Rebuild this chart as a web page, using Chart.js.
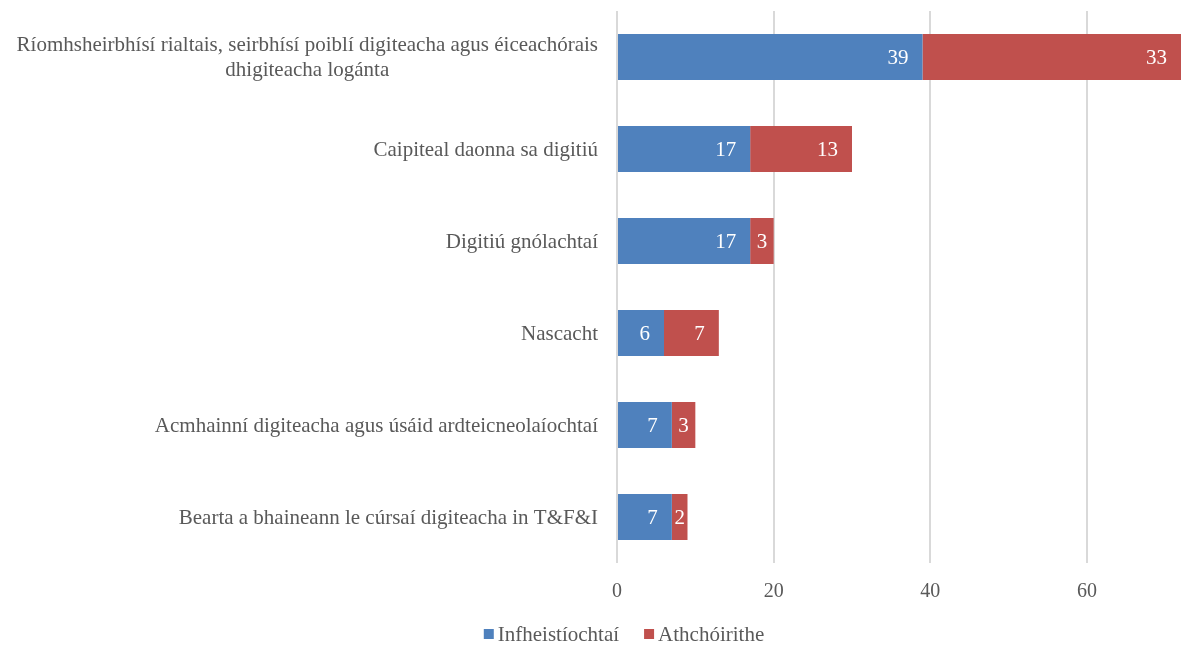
<!DOCTYPE html>
<html>
<head>
<meta charset="utf-8">
<script src="https://cdn.jsdelivr.net/npm/chart.js@4.4.0/dist/chart.umd.min.js"></script>
<style>
  html, body { margin: 0; padding: 0; background: #fff; }
  #wrap { width: 1181px; height: 646px; position: relative; }
</style>
</head>
<body>
<div id="wrap"><canvas id="chart"></canvas></div>
<script>
// data
const categories = [
  ["Ríomhsheirbhísí rialtais, seirbhísí poiblí digiteacha agus éiceachórais", "dhigiteacha logánta"],
  "Caipiteal daonna sa digitiú",
  "Digitiú gnólachtaí",
  "Nascacht",
  "Acmhainní digiteacha agus úsáid ardteicneolaíochtaí",
  "Bearta a bhaineann le cúrsaí digiteacha in T&F&I"
];
const investments = [39, 17, 17, 6, 7, 7];
const reforms = [33, 13, 3, 7, 3, 2];
const seriesNames = ["Infheistíochtaí", "Athchóirithe"];
const seriesColors = ["#4F81BD", "#C0504D"];
const axisMax = 72;
const tickStep = 20;

const textGrey = "#595959";
const serif = "'Liberation Serif', 'Times New Roman', serif";

// category labels: right-aligned block, wrapped lines centred inside it
const categoryLabels = {
  id: "categoryLabels",
  afterDraw(chart) {
    const ctx = chart.ctx;
    const yScale = chart.scales.y;
    const right = chart.chartArea.left - 19;
    const lineH = 25;
    ctx.save();
    ctx.font = "21px " + serif;
    ctx.fillStyle = textGrey;
    ctx.textBaseline = "middle";
    ctx.textAlign = "center";
    chart.data.labels.forEach((lab, i) => {
      const lines = Array.isArray(lab) ? lab : [lab];
      const blockW = Math.max(...lines.map((l) => ctx.measureText(l).width));
      const cx = right - blockW / 2;
      const cy = yScale.getPixelForValue(i);
      const top = cy - (lines.length - 1) * lineH / 2;
      lines.forEach((l, k) => ctx.fillText(l, cx, top + k * lineH + 1));
    });
    ctx.restore();
  }
};

// white value labels, at the inner end of each segment
const valueLabels = {
  id: "valueLabels",
  afterDatasetsDraw(chart) {
    const ctx = chart.ctx;
    ctx.save();
    ctx.font = "21px " + serif;
    ctx.fillStyle = "#ffffff";
    ctx.textBaseline = "middle";
    chart.data.datasets.forEach((ds, i) => {
      const meta = chart.getDatasetMeta(i);
      meta.data.forEach((bar, j) => {
        const txt = String(ds.data[j]);
        const w = ctx.measureText(txt).width;
        const start = Math.min(bar.base, bar.x);
        const end = Math.max(bar.base, bar.x);
        let x = end - 14;
        if (x - w < start + 2) {
          ctx.textAlign = "center";
          x = (start + end) / 2;
        } else {
          ctx.textAlign = "right";
        }
        ctx.fillText(txt, x, bar.y + 1);
      });
    });
    ctx.restore();
  }
};

// legend drawn by hand so the square sits close to its text
const bottomLegend = {
  id: "bottomLegend",
  afterDraw(chart) {
    const ctx = chart.ctx;
    ctx.save();
    ctx.font = "21px " + serif;
    ctx.textBaseline = "middle";
    const box = 10, gap = 4, itemGap = 25;
    const items = chart.data.datasets.map((ds) => ({
      label: ds.label,
      color: ds.backgroundColor,
      w: box + gap + ctx.measureText(ds.label).width
    }));
    const total = items.reduce((s, it) => s + it.w, 0) + itemGap * (items.length - 1);
    let x = 624 - total / 2;
    const y = 634;
    items.forEach((it) => {
      ctx.fillStyle = it.color;
      ctx.fillRect(x, y - box / 2, box, box);
      ctx.fillStyle = textGrey;
      ctx.textAlign = "left";
      ctx.fillText(it.label, x + box + gap, y + 1);
      x += it.w + itemGap;
    });
    ctx.restore();
  }
};

new Chart(document.getElementById("chart"), {
  type: "bar",
  data: {
    labels: categories,
    datasets: [
      { label: seriesNames[0], data: investments, backgroundColor: seriesColors[0] },
      { label: seriesNames[1], data: reforms, backgroundColor: seriesColors[1] }
    ]
  },
  options: {
    indexAxis: "y",
    responsive: true,
    maintainAspectRatio: false,
    animation: false,
    datasets: {
      bar: { categoryPercentage: 1, barPercentage: 0.5 }
    },
    layout: { padding: { top: 11, right: 0, bottom: 0, left: 0 } },
    scales: {
      x: {
        stacked: true,
        min: 0,
        max: axisMax,
        ticks: {
          stepSize: tickStep,
          color: textGrey,
          font: { family: serif, size: 20 },
          padding: 17
        },
        afterBuildTicks: (scale) => {
          scale.ticks = scale.ticks.filter((t) => t.value % tickStep === 0);
        },
        afterFit: (scale) => {
          scale.height = 83;
          scale.paddingLeft = 0;
          scale.paddingRight = 0;
        },
        grid: { color: "#d9d9d9", lineWidth: 2, drawTicks: false },
        border: { display: false }
      },
      y: {
        stacked: true,
        ticks: { display: false },
        afterFit: (scale) => {
          scale.width = 617;
          scale.paddingTop = 0;
          scale.paddingBottom = 0;
        },
        grid: { display: false, drawTicks: false },
        border: { display: false }
      }
    },
    plugins: {
      legend: { display: false },
      tooltip: { enabled: false }
    }
  },
  plugins: [valueLabels, categoryLabels, bottomLegend]
});
</script>
</body>
</html>
